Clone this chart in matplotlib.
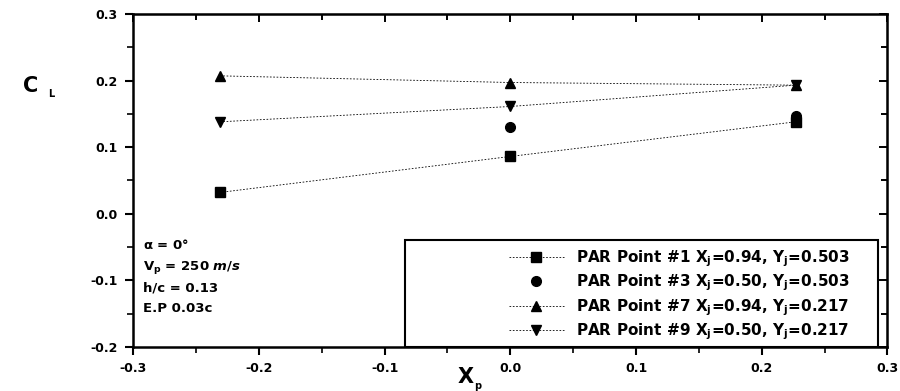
import matplotlib.pyplot as plt
from matplotlib.patches import Rectangle
import numpy as np

plt.rcParams['font.family'] = ['DejaVu Sans']
plt.rcParams['font.weight'] = 'bold'
plt.rcParams['mathtext.fontset'] = 'dejavusans'
plt.rcParams['mathtext.default'] = 'bf'

# x positions of the probe (X_p) and lift coefficient
xp = [-0.231, 0.0, 0.227]
cl_p1 = [0.032, 0.086, 0.138]
cl_p3_x = [0.0, 0.227]
cl_p3 = [0.130, 0.146]
cl_p7 = [0.207, 0.197, 0.193]
cl_p9 = [0.138, 0.161, 0.193]

labels = ["PAR Point #1 X$_{j}$=0.94, Y$_{j}$=0.503",
          "PAR Point #3 X$_{j}$=0.50, Y$_{j}$=0.503",
          "PAR Point #7 X$_{j}$=0.94, Y$_{j}$=0.217",
          "PAR Point #9 X$_{j}$=0.50, Y$_{j}$=0.217"]

fig = plt.figure(figsize=(9, 3.91), dpi=100)
ax = fig.add_axes([0.148, 0.1125, 0.838, 0.852])

line_kw = dict(color='black', lw=0.6, ls=(0, (2, 2)), markersize=7)
ax.plot(xp, cl_p1, marker='s', label=labels[0], **line_kw)
ax.plot(cl_p3_x, cl_p3, marker='o', ls='none', color='black', markersize=7, label=labels[1])
ax.plot(xp, cl_p7, marker='^', label=labels[2], **line_kw)
ax.plot(xp, cl_p9, marker='v', label=labels[3], **line_kw)

ax.set_xlim(-0.3, 0.3)
ax.set_ylim(-0.2, 0.3)
ax.set_xticks(np.arange(-0.3, 0.31, 0.1))
ax.set_yticks(np.arange(-0.2, 0.31, 0.1))
ax.set_xticks(np.arange(-0.25, 0.3, 0.1), minor=True)
ax.set_yticks(np.arange(-0.15, 0.3, 0.1), minor=True)
ax.set_xticklabels(['-0.3', '-0.2', '-0.1', '0.0', '0.1', '0.2', '0.3'])
ax.set_yticklabels(['-0.2', '-0.1', '0.0', '0.1', '0.2', '0.3'])
ax.tick_params(which='major', direction='out', length=6, width=1.5, labelsize=9, pad=5)
ax.tick_params(which='minor', direction='out', length=4, width=1.2)
for s in ax.spines.values():
    s.set_linewidth(1.8)

# inward ticks on top and right
top = ax.secondary_xaxis('top')
top.set_xticks(np.arange(-0.3, 0.31, 0.1))
top.set_xticks(np.arange(-0.25, 0.3, 0.1), minor=True)
top.tick_params(which='both', direction='in', labeltop=False, width=1.4)
top.tick_params(which='major', length=6)
top.tick_params(which='minor', length=4)
right = ax.secondary_yaxis('right')
right.set_yticks(np.arange(-0.2, 0.31, 0.1))
right.set_yticks(np.arange(-0.15, 0.3, 0.1), minor=True)
right.tick_params(which='both', direction='in', labelright=False, width=1.4)
right.tick_params(which='major', length=6)
right.tick_params(which='minor', length=4)

fig.text(0.025, 0.78, 'C', fontsize=15, ha='left', va='center')
fig.text(0.053, 0.76, 'L', fontsize=7, ha='left', va='center')
fig.text(0.508, 0.035, 'X', fontsize=15, ha='left', va='center')
fig.text(0.527, 0.012, 'p', fontsize=7, ha='left', va='center')

ax.text(0.013, 0.293, '$\\alpha$ = 0°', transform=ax.transAxes, fontsize=9.5)
ax.text(0.013, 0.231, 'V$_{p}$ = 250 $\\it{m/s}$', transform=ax.transAxes, fontsize=9.5)
ax.text(0.013, 0.168, 'h/c = 0.13', transform=ax.transAxes, fontsize=9.5)
ax.text(0.013, 0.105, 'E.P 0.03c', transform=ax.transAxes, fontsize=9.5)

# legend box spans more than the legend itself
ax.add_patch(Rectangle((0.361, 0.0), 0.626, 0.321, transform=ax.transAxes,
                       facecolor='white', edgecolor='black', lw=1.5, zorder=3))
leg = ax.legend(loc='lower right', bbox_to_anchor=(0.95, 0.015), fontsize=11,
                frameon=False, handlelength=3.6, handletextpad=0.8,
                borderpad=0, labelspacing=0.25, borderaxespad=0)
leg.set_zorder(4)

fig.savefig('out.png', dpi=100)
